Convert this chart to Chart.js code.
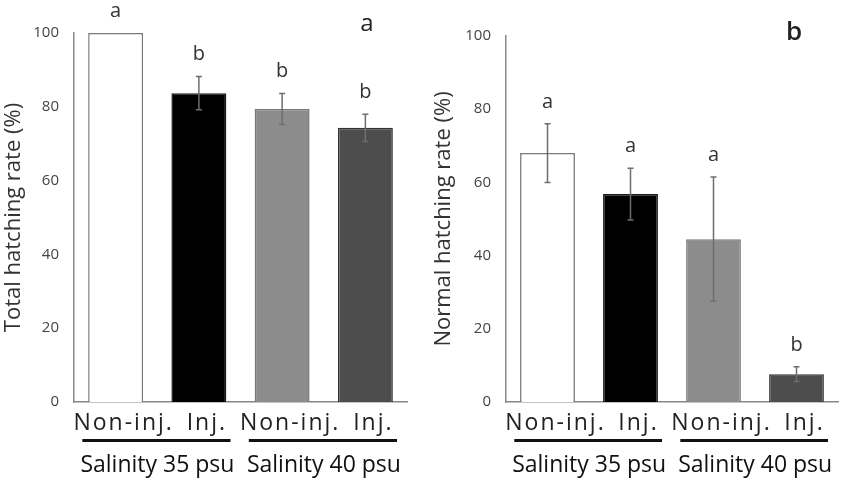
<!DOCTYPE html>
<html>
<head>
<meta charset="utf-8">
<script src="https://cdn.jsdelivr.net/npm/chart.js@4"></script>
<style>
  body { margin: 0; background: #fff; }
  .panel { position: absolute; top: 0; }
</style>
</head>
<body>
<div class="panel" style="left:0"><canvas id="totalChart" width="422" height="479"></canvas></div>
<div class="panel" style="left:422px"><canvas id="normalChart" width="422" height="479"></canvas></div>
<script>
const groups = ["Non-inj.", "Inj.", "Non-inj.", "Inj."];
const salinity = ["Salinity 35 psu", "Salinity 40 psu"];
const yTicks = [0, 20, 40, 60, 80, 100];

const totalMean = [100, 83.7, 79.4, 74.3];
const totalErr = [0, 4.5, 4.2, 3.7];
const totalLetters = ["a", "b", "b", "b"];

const normalMean = [68, 56.8, 44.5, 7.6];
const normalErr = [8, 7.1, 17, 2];
const normalLetters = ["a", "a", "a", "b"];

const barFill = ['#ffffff', '#000000', '#8c8c8c', '#4d4d4d'];
const barEdge = ['#7a7a7a', '#1a1a1a', '#777777', '#333333'];

const FONT = "'Open Sans', 'Noto Sans', sans-serif";

// error bars, letters, group underlines, panel tag
const annotate = {
  id: 'annotate',
  afterDatasetsDraw(chart, args, opts) {
    const ctx = chart.ctx;
    const x = chart.scales.x;
    const y = chart.scales.y;
    const area = chart.chartArea;
    const cw = x.getPixelForValue(1) - x.getPixelForValue(0);

    ctx.save();
    opts.means.forEach((m, i) => {
      const px = x.getPixelForValue(i);
      const e = opts.errs[i];
      const top = y.getPixelForValue(m + e);
      if (e > 0) {
        const bot = y.getPixelForValue(m - e);
        ctx.strokeStyle = '#6e6e6e';
        ctx.lineWidth = 1.5;
        ctx.beginPath();
        ctx.moveTo(px, top); ctx.lineTo(px, bot);
        ctx.moveTo(px - 3, top); ctx.lineTo(px + 3, top);
        ctx.moveTo(px - 3, bot); ctx.lineTo(px + 3, bot);
        ctx.stroke();
      }
      ctx.fillStyle = '#333';
      ctx.font = '20px ' + FONT;
      ctx.textAlign = 'center';
      ctx.textBaseline = 'middle';
      ctx.fillText(opts.letters[i], px, top - 22);
    });

    [[0, 1], [2, 3]].forEach((pair, k) => {
      const x1 = x.getPixelForValue(pair[0]) - 0.4 * cw;
      const x2 = x.getPixelForValue(pair[1]) + 0.38 * cw;
      ctx.fillStyle = '#111';
      ctx.fillRect(x1, area.bottom + 37, x2 - x1, 3);
      ctx.font = '23px ' + FONT;
      ctx.textAlign = 'center';
      ctx.textBaseline = 'middle';
      ctx.fillText(salinity[k], (x1 + x2) / 2 + 1, area.bottom + 63);
    });

    ctx.fillStyle = '#222';
    ctx.font = opts.tagFont + ' ' + FONT;
    ctx.textAlign = 'center';
    ctx.fillText(opts.tag, area.right - opts.tagDx, opts.tagY);
    ctx.restore();

    // x tick labels (drawn next, ticks.z = 1) are a little spaced out like the original
    ctx.letterSpacing = '2px';
  },
  afterDraw(chart) {
    chart.ctx.letterSpacing = '0px';
  }
};

function makeChart(id, means, errs, letters, title, opts) {
  new Chart(document.getElementById(id), {
    type: 'bar',
    data: {
      labels: groups,
      datasets: [{
        data: means,
        backgroundColor: barFill,
        borderColor: barEdge,
        borderWidth: 1.5,
        barPercentage: 0.66,
        categoryPercentage: 1
      }]
    },
    options: {
      responsive: false,
      animation: false,
      layout: { padding: { left: 0, right: opts.padRight, top: opts.padTop, bottom: 0 } },
      plugins: {
        legend: { display: false },
        tooltip: { enabled: false },
        annotate: { means: means, errs: errs, letters: letters, tag: opts.tag, tagFont: opts.tagFont, tagDx: opts.tagDx, tagY: opts.tagY }
      },
      scales: {
        x: {
          grid: { display: false, drawTicks: false },
          border: { color: '#888', width: 1.5 },
          ticks: { z: 1, color: '#222', font: { size: 23, family: FONT }, padding: 8, labelOffset: 8, maxRotation: 0, autoSkip: false },
          afterFit(scale) { scale.height = 77; }
        },
        y: {
          min: 0,
          max: 100,
          afterBuildTicks(scale) { scale.ticks = yTicks.map(v => ({ value: v })); },
          grid: { display: false, drawTicks: false },
          border: { color: '#888', width: 1.5 },
          ticks: { color: '#444', font: { size: 15, family: FONT }, padding: 15 },
          title: { display: true, text: title, color: '#333', font: { size: 22, family: FONT }, padding: opts.titlePad },
          afterFit(scale) { scale.width = opts.yWidth; }
        }
      }
    },
    plugins: [annotate]
  });
}

makeChart('totalChart', totalMean, totalErr, totalLetters, 'Total hatching rate (%)',
  { padRight: 15, padTop: 33, yWidth: 74, titlePad: 1, tag: 'a', tagFont: '24px', tagDx: 40, tagY: 24 });
makeChart('normalChart', normalMean, normalErr, normalLetters, 'Normal hatching rate (%)',
  { padRight: 6, padTop: 36, yWidth: 84, titlePad: 9, tag: 'b', tagFont: '600 26px', tagDx: 44, tagY: 33 });
</script>
</body>
</html>
